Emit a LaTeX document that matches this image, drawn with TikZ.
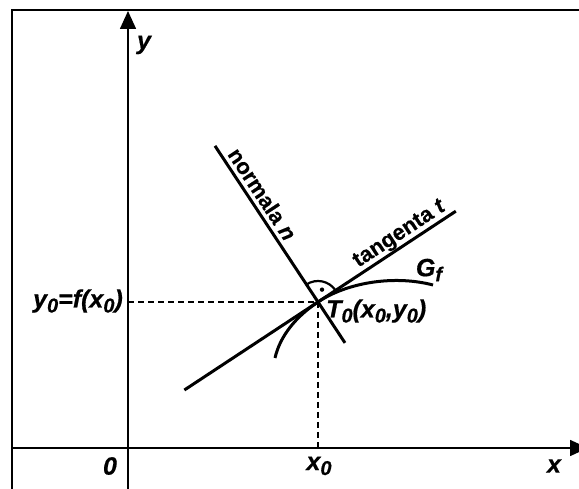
\documentclass[tikz,border=0pt]{standalone}
\usepackage{fontspec}
\setmainfont{Liberation Sans}[BoldItalicFeatures={FakeBold=0.6},BoldFeatures={FakeBold=0.4}]
\usetikzlibrary{arrows.meta}
\newcommand\lowsub[1]{\raisebox{-0.2em}{\fontsize{20}{20}\selectfont #1}}
\begin{document}
\begin{tikzpicture}[x=1pt,y=1pt,
  lab/.style={font=\fontsize{25}{27}\selectfont\bfseries\itshape, inner sep=0pt},
  linelab/.style={font=\fontsize{22}{24}\selectfont\bfseries, inner sep=0pt},
  axisline/.style={line width=1.6pt, -{Triangle[length=18pt,width=16pt]}},
  heavy/.style={line width=3pt},
  guide/.style={line width=1.4pt, dash pattern=on 6pt off 4pt}]
\useasboundingbox (0,0) rectangle (579,488);
\clip (0,0) rectangle (579,488);
% frame
\coordinate (fTR) at (580,478);
\coordinate (fTL) at (12,478);
\coordinate (fBL) at (12,-1);
\draw[line width=2pt] (fTR) -- (fTL) -- (fBL);
% axes
\coordinate (xs) at (12,40);
\coordinate (xe) at (588,40);
\coordinate (ys) at (128,-1);
\coordinate (ye) at (128,477);
\draw[axisline] (xs) -- (xe);
\draw[axisline] (ys) -- (ye);
% point and guides
\coordinate (T0) at (318,186);
\coordinate (yp) at (128,186);
\coordinate (xp) at (318,40);
\draw[guide] (yp) -- (T0);
\draw[guide] (T0) -- (xp);
% tangent and normal
\coordinate (tA) at (184.4,98);
\coordinate (tB) at (455.8,276.8);
\coordinate (nA) at (215,342.1);
\coordinate (nB) at (345,145.1);
\draw[heavy] (tA) -- (tB);
\draw[heavy] (nA) -- (nB);
% curve
\coordinate (cL) at (275,130);
\coordinate (cR) at (433,203);
\draw[heavy] (cL) .. controls (280,152) and (296,171.5) .. (T0) .. controls (348,206) and (395,213) .. (cR);
% right angle mark
\draw[line width=2.2pt] ([shift={(33.4:21)}]T0) arc[start angle=33.4, end angle=123.4, radius=21];
\fill ([shift={(72:13)}]T0) circle (2.2);
% labels
\node[lab] (ylab) at (144,443) {y};
\node[lab] (zlab) at (110,22) {0};
\node[lab] (x0lab) at (319,22) {x\lowsub{0}};
\node[lab] (xlab) at (554,22) {x};
\node[lab, anchor=east] (y0lab) at (123,187) {y\lowsub{0}=f(x\lowsub{0})};
\node[lab, anchor=west] (T0lab) at (326,177) {T\lowsub{0}(x\lowsub{0},y\lowsub{0})};
\node[lab] (Gflab) at (429,218) {G\lowsub{f}};
\node[linelab, rotate=-56.6] (nlab) at (262.5,294) {normala \textit{n}};
\node[linelab, rotate=33.4] (tlab) at (400,253.5) {tangenta \textit{t}};
\end{tikzpicture}
\end{document}
